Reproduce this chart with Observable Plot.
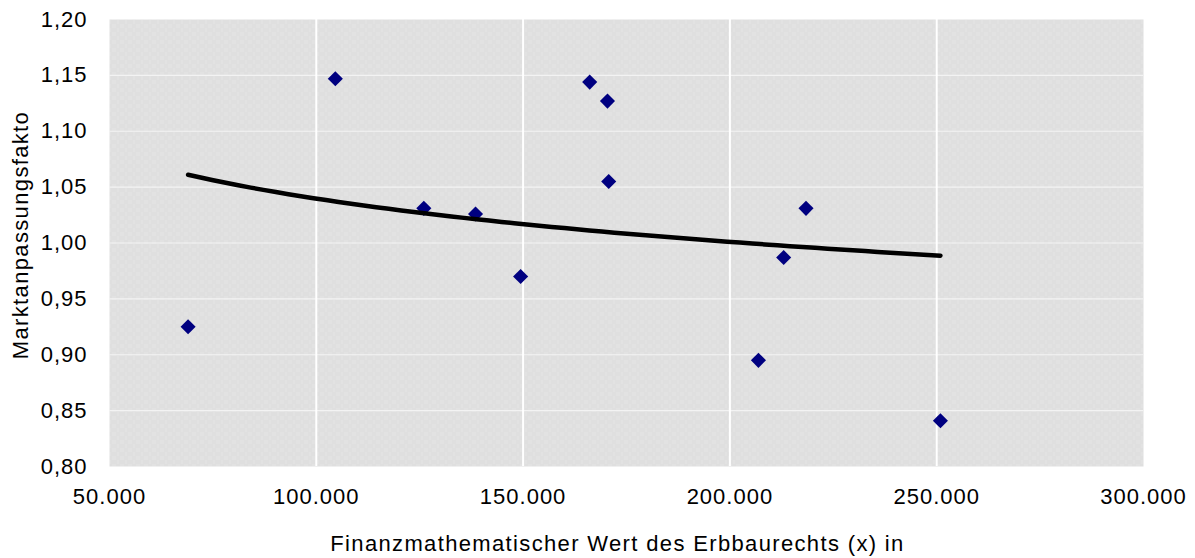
<!DOCTYPE html>
<html>
<head>
<meta charset="utf-8">
<script src="https://cdn.jsdelivr.net/npm/d3@7"></script>
<script src="https://cdn.jsdelivr.net/npm/@observablehq/plot@0.6"></script>
<style>
  html, body { margin: 0; padding: 0; background: #ffffff; }
  #chart svg { display: block; }
  #chart svg text { letter-spacing: 1.0px; }
  #chart svg .title text { letter-spacing: 1.35px; }
</style>
</head>
<body>
<div id="chart"></div>
<script>
// Erbbaurecht: finance-mathematical value (x) vs. market adjustment factor (y)
const valueX = [69000, 104600, 126000, 138500, 149400, 166100, 170400, 170700, 206900, 213000, 218400, 250900];
const factorY = [0.925, 1.147, 1.031, 1.026, 0.970, 1.144, 1.127, 1.055, 0.895, 0.987, 1.031, 0.841];

// Power trendline y = a * x^b over the observed range
const trendA = 1.9526;
const trendB = -0.05474;

const xTicks = [50000, 100000, 150000, 200000, 250000, 300000];
const yTicks = [0.80, 0.85, 0.90, 0.95, 1.00, 1.05, 1.10, 1.15, 1.20];

const xTitle = "Finanzmathematischer Wert des Erbbaurechts (x) in";
const yTitle = "Marktanpassungsfakto";

const points = valueX.map((x, i) => ({x, y: factorY[i]}));
const [xMin, xMax] = d3.extent(valueX);
const trend = d3.range(0, 61).map(i => {
  const x = xMin + (xMax - xMin) * i / 60;
  return {x, y: trendA * Math.pow(x, trendB)};
});

const de = d3.formatLocale({decimal: ",", thousands: ".", grouping: [3], currency: ["", " €"]});
const fmtX = de.format(",.0f");
const fmtY = d => d.toFixed(2).replace(".", ",");

const font = "'Liberation Sans', Arial, sans-serif";

const chart = Plot.plot({
  width: 1195,
  height: 558,
  marginLeft: 109,
  marginRight: 52,
  marginTop: 19,
  marginBottom: 92,
  style: {fontFamily: font, fontSize: "22px", color: "#000", background: "#fff"},
  x: {domain: [50000, 300000], ticks: xTicks, tickFormat: fmtX, label: null},
  y: {domain: [0.80, 1.20], ticks: yTicks, tickFormat: fmtY, label: null},
  marks: [
    Plot.frame({fill: "url(#plotDots)", stroke: "none"}),
    Plot.ruleY(yTicks.slice(1, -1), {stroke: "#f3f3f3", strokeWidth: 1.2}),
    Plot.ruleX(xTicks.slice(1, -1), {stroke: "#ffffff", strokeWidth: 2}),
    Plot.dot(points, {x: "x", y: "y", symbol: "diamond2", r: 6.8, fill: "#000080", stroke: "none"}),
    Plot.line(trend, {x: "x", y: "y", stroke: "#000", strokeWidth: 4.5, strokeLinecap: "round", curve: "linear"}),
    Plot.axisX({ticks: xTicks, tickFormat: fmtX, tickSize: 0, tickPadding: 22, fontSize: 22, label: null}),
    Plot.axisY({ticks: yTicks, tickFormat: fmtY, tickSize: 0, tickPadding: 22, fontSize: 22, label: null}),
    Plot.text([xTitle], {frameAnchor: "bottom", textAnchor: "middle", lineAnchor: "middle", dy: 77, dx: -9, fontSize: 22, fill: "#000", className: "title"}),
    Plot.text([yTitle], {frameAnchor: "left", textAnchor: "middle", lineAnchor: "middle", dx: -89, dy: -8, rotate: -90, fontSize: 22, fill: "#000", className: "title"})
  ]
});

// dotted fill pattern used for the plotting area
const ns = "http://www.w3.org/2000/svg";
const defs = document.createElementNS(ns, "defs");
const pat = document.createElementNS(ns, "pattern");
pat.setAttribute("id", "plotDots");
pat.setAttribute("patternUnits", "userSpaceOnUse");
pat.setAttribute("width", 8);
pat.setAttribute("height", 8);
const base = document.createElementNS(ns, "rect");
base.setAttribute("width", 8);
base.setAttribute("height", 8);
base.setAttribute("fill", "#dfdfdf");
pat.appendChild(base);
[[0, 0], [2, 0], [0, 2], [2, 2], [5, 4], [5, 6]].forEach(([px, py]) => {
  const r = document.createElementNS(ns, "rect");
  r.setAttribute("x", px);
  r.setAttribute("y", py);
  r.setAttribute("width", 1);
  r.setAttribute("height", 1);
  r.setAttribute("fill", "#ebebeb");
  pat.appendChild(r);
});
defs.appendChild(pat);
chart.insertBefore(defs, chart.firstChild);

document.getElementById("chart").appendChild(chart);
</script>
</body>
</html>
